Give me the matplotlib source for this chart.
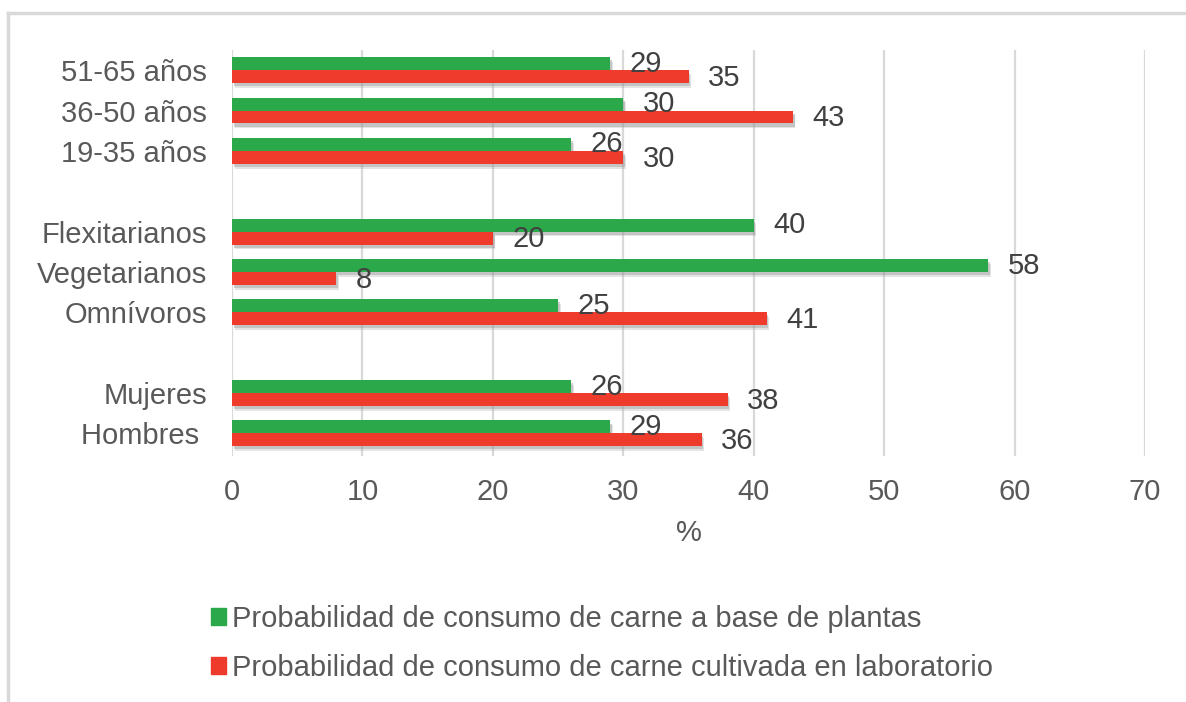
import matplotlib as mpl
mpl.use("Agg")
import matplotlib.pyplot as plt
import matplotlib.patheffects as pe
from matplotlib.lines import Line2D
from matplotlib.patches import Patch

mpl.rc('font', family='Liberation Sans', size=21)

# categories from bottom to top, grouped (sexo / dieta / edad)
groups = [
    ["Hombres ", "Mujeres"],
    ["Omnívoros", "Vegetarianos", "Flexitarianos"],
    ["19-35 años", "36-50 años", "51-65 años"],
]
plantas = [29, 26, 25, 58, 40, 26, 30, 29]
laboratorio = [36, 38, 41, 8, 20, 30, 43, 35]
xticks = [0, 10, 20, 30, 40, 50, 60, 70]
legend_labels = ["Probabilidad de consumo de carne a base de plantas",
                 "Probabilidad de consumo de carne cultivada en laboratorio"]

green = '#2BA84A'
red = '#EF3B2C'
txt = '#595959'
lbl = '#404040'

# one empty slot between groups
cats = []
ypos = []
pos = 0
for g in groups:
    for c in g:
        cats.append(c)
        ypos.append(pos)
        pos += 1
    pos += 1

W, H = 1186, 702
fig = plt.figure(figsize=(W / 100, H / 100), dpi=100)
ax = fig.add_axes([232 / W, 1 - 456 / H, (1145 - 232) / W, (456 - 50) / H])

h = 0.32
shadow = [pe.SimplePatchShadow(offset=(1.2, -2.2), shadow_rgbFace='#8c8c8c', alpha=0.4),
          pe.SimplePatchShadow(offset=(1.8, -3.4), shadow_rgbFace='#a6a6a6', alpha=0.3),
          pe.Normal()]
yg = [y + h / 2 for y in ypos]
yr = [y - h / 2 for y in ypos]
bg = ax.barh(yg, plantas, height=h, color=green, zorder=3)
br = ax.barh(yr, laboratorio, height=h, color=red, zorder=3)
for b in list(bg) + list(br):
    b.set_path_effects(shadow)

for y, v in zip(yg, plantas):
    ax.annotate(str(v), (v, y), xytext=(14, 0), textcoords='offset points',
                ha='left', va='center', fontsize=21, color=lbl, zorder=4)
for y, v in zip(yr, laboratorio):
    ax.annotate(str(v), (v, y), xytext=(14, -1), textcoords='offset points',
                ha='left', va='center', fontsize=21, color=lbl, zorder=4)

ax.set_xlim(0, 70)
ax.set_ylim(-0.56, 9.5)
ax.set_xticks(xticks)
ax.set_yticks(ypos)
ax.set_yticklabels(cats)
ax.tick_params(length=0, colors=txt, labelsize=21)
ax.tick_params(axis='x', pad=16)
ax.tick_params(axis='y', pad=18)
for s in ax.spines.values():
    s.set_visible(False)
ax.set_axisbelow(True)
ax.grid(axis='x', color='#d9d9d9', lw=1.6)
ax.grid(axis='y', visible=False)

ax.set_xlabel('%', color=txt, fontsize=21)
ax.xaxis.set_label_coords(0.5, (456 - 533) / 406)
ax.xaxis.label.set_va('center')

handles = [Patch(color=green), Patch(color=red)]
fig.legend(handles, legend_labels, loc='upper left',
           bbox_to_anchor=(211 / W, 1 - 605 / H), frameon=False,
           fontsize=21, labelcolor=txt, handlelength=0.5, handleheight=0.5,
           handletextpad=0.22, labelspacing=0.72, borderpad=0, borderaxespad=0)

# outer frame (only top and left edges visible)
fig.add_artist(Line2D([8 / W, 1], [1 - 13 / H, 1 - 13 / H], color='#d9d9d9', lw=2.5))
fig.add_artist(Line2D([8 / W, 8 / W], [0, 1 - 13 / H], color='#d9d9d9', lw=2.5))

fig.savefig('out.png', dpi=100)
